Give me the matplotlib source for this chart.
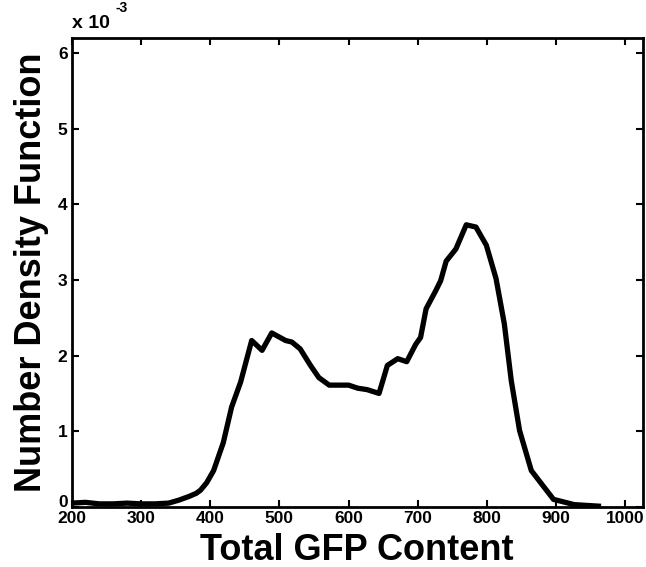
import numpy as np
import matplotlib
matplotlib.use('Agg')
import matplotlib.pyplot as plt
import matplotlib.transforms as mtransforms

plt.rcParams['font.family'] = ['Liberation Sans', 'DejaVu Sans']
plt.rcParams['font.weight'] = 'bold'

# number density (x 10^-3) vs total GFP content
gfp = [200, 220, 240, 260, 280, 300, 320, 340, 355, 370, 380, 386, 395, 405,
       419, 431, 444, 460, 475, 489, 509, 518, 530, 545, 557, 572, 600, 613,
       627, 644, 656, 671, 684, 697, 704, 712, 726, 733, 741, 755, 770, 784,
       799, 813, 825, 835, 847, 864, 880, 896, 926, 961]
density = [0.05, 0.06, 0.04, 0.04, 0.05, 0.04, 0.04, 0.05, 0.09, 0.14, 0.18,
           0.22, 0.32, 0.48, 0.85, 1.32, 1.65, 2.20, 2.07, 2.30, 2.20, 2.18,
           2.09, 1.87, 1.71, 1.61, 1.61, 1.57, 1.55, 1.50, 1.87, 1.96, 1.92,
           2.15, 2.24, 2.62, 2.86, 2.99, 3.25, 3.41, 3.73, 3.70, 3.46, 3.02,
           2.42, 1.67, 1.01, 0.48, 0.29, 0.10, 0.03, 0.01]

xticks = [200, 300, 400, 500, 600, 700, 800, 900, 1000]
yticks = [0, 1, 2, 3, 4, 5, 6]

fig = plt.figure(figsize=(6.46, 5.67), dpi=100)
ax = fig.add_axes([0.111, 0.106, 0.884, 0.827])
ax.plot(gfp, density, color='black', linewidth=3.8, solid_joinstyle='round')

ax.set_xlim(200, 1025)
ax.set_ylim(0, 6.2)
ax.set_xticks(xticks)
ax.set_yticks(yticks)
ax.tick_params(direction='in', top=True, right=True, length=5, width=1.5,
               labelsize=12.5, pad=3)
for lab in ax.get_xticklabels() + ax.get_yticklabels():
    lab.set_fontweight('bold')
for s in ax.spines.values():
    s.set_linewidth(2)

# lift the "0" a little so it sits above the "200"
zero = ax.get_yticklabels()[0]
zero.set_transform(zero.get_transform() +
                   mtransforms.ScaledTranslation(0, 4 / 72, fig.dpi_scale_trans))

ax.set_xlabel('Total GFP Content', fontsize=26, fontweight='bold', labelpad=5)
ax.set_ylabel('Number Density Function', fontsize=26, fontweight='bold', labelpad=6)

ax.text(0.0, 1.012, 'x 10', transform=ax.transAxes, fontsize=14,
        fontweight='bold', ha='left', va='bottom')
ax.text(0.076, 1.05, '-3', transform=ax.transAxes, fontsize=10,
        fontweight='bold', ha='left', va='bottom')

fig.savefig('out.png', dpi=100)
